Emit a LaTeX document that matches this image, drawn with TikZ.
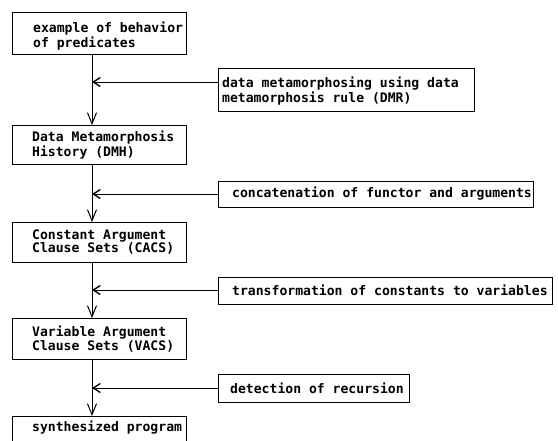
\documentclass[tikz,border=0pt]{standalone}
\usepackage{fontspec}
\setmonofont{DejaVu Sans Mono}
\usetikzlibrary{arrows.meta}
\begin{document}
\begin{tikzpicture}[x=1pt,y=-1pt,
  box/.style={draw,line width=1pt,rectangle,inner sep=0pt,anchor=north west},
  txt/.style={anchor=west,inner sep=0pt,align=left,font=\ttfamily\bfseries\fontsize{13.1}{12.5}\selectfont},
  flow/.style={line width=1pt,-{Straight Barb[length=11pt,width=9pt,line width=1pt]}},
  feed/.style={line width=1pt,-{Straight Barb[length=7pt,width=9pt,line width=1.4pt]}}]
\useasboundingbox (0,0) rectangle (558,440);
\clip (0,0) rectangle (558,440);
% left column boxes
\node[box,minimum width=174pt,minimum height=42pt] (b1) at (12,12) {};
\node[box,minimum width=174pt,minimum height=39pt] (b2) at (12,125) {};
\node[box,minimum width=174pt,minimum height=40pt] (b3) at (12,222) {};
\node[box,minimum width=174pt,minimum height=41pt] (b4) at (12,318) {};
\node[box,minimum width=174pt,minimum height=44pt] (b5) at (12,416) {};
\node[txt] (t1) at (33,36) {example of behavior\\of predicates};
\node[txt] (t2) at (32,145) {Data Metamorphosis\\History (DMH)};
\node[txt] (t3) at (32,242) {Constant Argument\\Clause Sets (CACS)};
\node[txt] (t4) at (32,339) {Variable Argument\\Clause Sets (VACS)};
\node[txt] (t5) at (32,428) {synthesized program};
% right column boxes
\node[box,minimum width=256pt,minimum height=43pt] (r1) at (218,68) {};
\node[box,minimum width=315pt,minimum height=26pt] (r2) at (218,181) {};
\node[box,minimum width=334pt,minimum height=27pt] (r3) at (218,277) {};
\node[box,minimum width=191pt,minimum height=28pt] (r4) at (218,374) {};
\node[txt] (u1) at (222,91) {data metamorphosing using data\\metamorphosis rule (DMR)};
\node[txt] (u2) at (232,194) {concatenation of functor and arguments};
\node[txt] (u3) at (232,290.5) {transformation of constants to variables};
\node[txt] (u4) at (230,388) {detection of recursion};
% junctions
\coordinate (j1) at (92,82);
\coordinate (j2) at (92,194);
\coordinate (j3) at (92,290);
\coordinate (j4) at (92,388);
% flow arrows
\draw[flow] (b1.south -| j1) -- (b2.north -| j1);
\draw[flow] (b2.south -| j2) -- (b3.north -| j2);
\draw[flow] (b3.south -| j3) -- (b4.north -| j3);
\draw[flow] (b4.south -| j4) -- (b5.north -| j4);
% feed arrows
\draw[feed] (r1.west |- j1) -- (j1);
\draw[feed] (r2.west |- j2) -- (j2);
\draw[feed] (r3.west |- j3) -- (j3);
\draw[feed] (r4.west |- j4) -- (j4);
\end{tikzpicture}
\end{document}
